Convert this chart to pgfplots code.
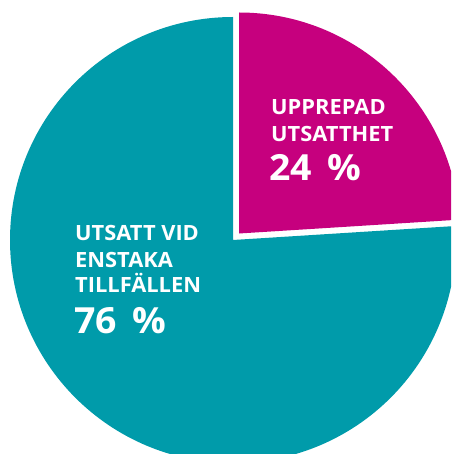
\documentclass[border=0pt]{standalone}
\usepackage{pgfplots}
\usepackage{pgfplotstable}
\pgfplotsset{compat=1.18}
\usepackage{fontspec}
\setmainfont{Open Sans}[FakeStretch=1.04]
\definecolor{teal}{RGB}{0,155,170}
\definecolor{magenta}{RGB}{198,0,126}
\pgfplotstableread{
label value
repeated 24
single 76
}\piedata
\begin{document}
\begin{tikzpicture}
\begin{axis}[
  name=pie,
  width=451pt, height=454pt, scale only axis,
  xmin=0, xmax=451, ymin=0, ymax=454, y dir=reverse,
  hide axis, clip=true,
]
\pgfplotstablegetelem{0}{value}\of\piedata \let\vA\pgfplotsretval
\pgfplotstablegetelem{1}{value}\of\piedata \let\vB\pgfplotsretval
\pgfmathsetmacro{\aA}{90-3.6*\vA}
\pgfmathsetmacro{\aB}{90+3.6*\vB}
% single-occasion slice (76 %)
\fill[teal] (axis cs:233,240) -- ++(90:223pt) arc[start angle=90, end angle=\aB, radius=223pt] -- cycle;
% repeated slice (24 %), exploded
\fill[magenta] (axis cs:239,233.5) -- ++(\aA:221pt) arc[start angle=\aA, end angle=90, radius=221pt] -- cycle;
\begin{scope}[every node/.style={anchor=base west, text=white, inner sep=0pt, font=\bfseries}]
\node at (axis cs:271,115) {\fontsize{21}{21}\selectfont UPPREPAD};
\node at (axis cs:271,142) {\fontsize{21}{21}\selectfont UTSATTHET};
\node at (axis cs:269,181) {\fontsize{36}{36}\selectfont 24\hspace{0.42em}\%};
\node at (axis cs:75,240) {\fontsize{21}{21}\selectfont UTSATT VID};
\node at (axis cs:75,267) {\fontsize{21}{21}\selectfont ENSTAKA};
\node at (axis cs:75,292) {\fontsize{21}{21}\selectfont TILLFÄLLEN};
\node at (axis cs:74,333) {\fontsize{36}{36}\selectfont 76\hspace{0.42em}\%};
\end{scope}
\end{axis}
\pgfresetboundingbox
\path[use as bounding box] (pie.south west) rectangle (pie.north east);
\end{tikzpicture}
\end{document}
